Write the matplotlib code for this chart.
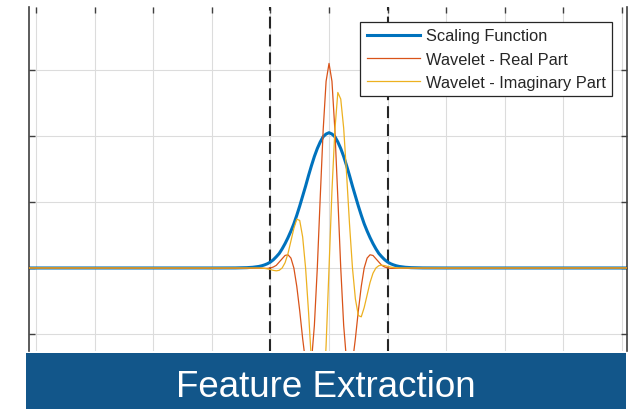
import matplotlib.pyplot as plt
from matplotlib.patches import Rectangle

plt.rcParams['font.family'] = ['Liberation Sans', 'DejaVu Sans']

# values (x in tick units, y in grid units)
x_scaling = [-5.2, -2.0, -1.6, -1.4, -1.3, -1.2, -1.15, -1.1, -1.05, -1.0,
             -0.95, -0.9, -0.85, -0.8, -0.75, -0.7, -0.65, -0.6, -0.55, -0.5,
             -0.45, -0.4, -0.35, -0.3, -0.25, -0.2, -0.15, -0.1, -0.05, 0.0,
             0.05, 0.1, 0.15, 0.2, 0.25, 0.3, 0.35, 0.4, 0.45, 0.5,
             0.55, 0.6, 0.65, 0.7, 0.75, 0.8, 0.85, 0.9, 0.95, 1.0,
             1.05, 1.1, 1.15, 1.2, 1.3, 1.4, 1.6, 2.0, 5.2]
scaling = [0.0, 0.0, 0.001, 0.005, 0.011, 0.023, 0.033, 0.047, 0.065, 0.09,
           0.125, 0.17, 0.22, 0.29, 0.37, 0.46, 0.56, 0.67, 0.80, 0.94,
           1.09, 1.24, 1.40, 1.55, 1.69, 1.81, 1.91, 1.99, 2.03, 2.05,
           2.03, 1.99, 1.91, 1.81, 1.69, 1.55, 1.40, 1.24, 1.09, 0.94,
           0.80, 0.67, 0.56, 0.46, 0.37, 0.29, 0.22, 0.17, 0.125, 0.09,
           0.065, 0.047, 0.033, 0.023, 0.011, 0.005, 0.001, 0.0, 0.0]

x_wave = [-5.2, -1.2, -1.15, -1.1, -1.05, -1.0, -0.95, -0.9, -0.85, -0.8,
          -0.75, -0.7, -0.65, -0.6, -0.55, -0.5, -0.45, -0.4, -0.35, -0.3,
          -0.25, -0.2, -0.15, -0.1, -0.05, 0.0, 0.05, 0.1, 0.15, 0.2,
          0.25, 0.3, 0.35, 0.4, 0.45, 0.5, 0.55, 0.6, 0.65, 0.7,
          0.75, 0.8, 0.85, 0.9, 0.95, 1.0, 1.05, 1.1, 1.15, 1.2, 5.2]
wave_real = [0.0, -0.003, -0.005, -0.006, -0.006, 0.0, 0.015, 0.04, 0.09, 0.14,
             0.19, 0.20, 0.15, 0.0, -0.28, -0.65, -1.07, -1.43, -1.58, -1.42,
             -0.87, 0.0, 1.07, 2.09, 2.83, 3.10, 2.83, 2.09, 1.07, 0.0,
             -0.87, -1.42, -1.58, -1.43, -1.07, -0.65, -0.28, 0.0, 0.15, 0.20,
             0.19, 0.14, 0.09, 0.04, 0.015, 0.0, -0.006, -0.006, -0.005, -0.003, 0.0]
wave_imag = [0.0, 0.0, -0.002, -0.006, -0.014, -0.024, -0.036, -0.043, -0.035, 0.0,
             0.08, 0.22, 0.41, 0.60, 0.74, 0.72, 0.47, 0.0, -0.66, -1.42,
             -2.12, -2.56, -2.66, -2.09, -1.17, 0.0, 1.17, 2.09, 2.66, 2.56,
             2.12, 1.42, 0.66, 0.0, -0.47, -0.72, -0.74, -0.60, -0.41, -0.22,
             -0.08, 0.0, 0.035, 0.043, 0.036, 0.024, 0.014, 0.006, 0.002, 0.0, 0.0]

support = [-1, 1]
labels = ['Scaling Function', 'Wavelet - Real Part', 'Wavelet - Imaginary Part']
banner_text = 'Feature Extraction'

fig = plt.figure(figsize=(6.38, 4.10), dpi=100)
ax = fig.add_axes([29 / 638, 58 / 410, 598 / 638, 344 / 410])

for xv in support:
    ax.axvline(xv, color='#262626', linewidth=1.5, dashes=(5.7, 2.9), zorder=1)

ax.plot(x_scaling, scaling, color='#0072BD', linewidth=2.2, label=labels[0], zorder=2)
ax.plot(x_wave, wave_real, color='#D95319', linewidth=0.9, label=labels[1], zorder=3)
ax.plot(x_wave, wave_imag, color='#EDB120', linewidth=0.9, label=labels[2], zorder=4)

ax.set_xlim(-5.12, 5.085)
ax.set_ylim(-1.258, 3.955)
ax.set_xticks(range(-5, 6))
ax.set_yticks(range(-1, 4))
ax.tick_params(top=True, right=True, bottom=False, direction='in', length=4,
               width=1, color='#404040', labelleft=False, labelbottom=False)
ax.grid(True, color='#dcdcdc', linewidth=0.8)
ax.set_axisbelow(True)
ax.spines['top'].set_visible(False)
ax.spines['bottom'].set_visible(False)
for side in ['left', 'right']:
    ax.spines[side].set_color('#404040')
    ax.spines[side].set_linewidth(1.2)

leg = ax.legend(loc='upper right', bbox_to_anchor=(0.975, 0.957), borderaxespad=0,
                fontsize=11.8, fancybox=False, framealpha=1, edgecolor='#262626',
                labelcolor='#262626', handlelength=3.25, handletextpad=0.35,
                borderpad=0.4, labelspacing=0.5)
leg.get_frame().set_linewidth(0.9)

fig.add_artist(Rectangle((26 / 638, 0), 600 / 638, 56 / 410, transform=fig.transFigure,
                         facecolor='#12568a', edgecolor='none'))
fig.text(326 / 638, 13 / 410, banner_text, ha='center', va='baseline',
         fontsize=26.5, color='white')

fig.savefig('out.png', dpi=100)
